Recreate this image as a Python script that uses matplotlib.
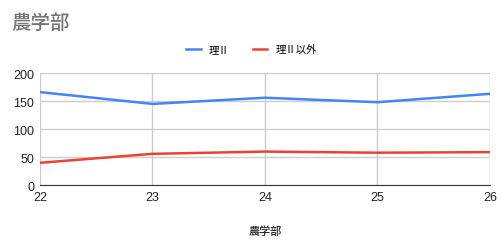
import matplotlib
matplotlib.use('Agg')
import matplotlib.pyplot as plt

plt.rcParams['font.family'] = ['Noto Sans CJK JP', 'DejaVu Sans']

years = [22, 23, 24, 25, 26]
ri2 = [166, 145, 156, 148, 163]
ri2_other = [40, 56, 60, 58, 59]
y_ticks = [0, 50, 100, 150, 200]

fig = plt.figure(figsize=(5.03, 2.51), dpi=100)
ax = fig.add_axes([0.0795, 0.258, 0.8945, 0.447])

ax.plot(years, ri2, color='#4285f4', linewidth=1.8, label='理Ⅱ')
ax.plot(years, ri2_other, color='#ea4335', linewidth=1.8, label='理Ⅱ以外')

ax.set_xlim(22, 26)
ax.set_ylim(0, 200)
ax.set_xticks(years)
ax.set_yticks(y_ticks)
ax.grid(True, color='#cccccc', linewidth=1)
ax.set_axisbelow(True)
for s in ['top', 'right', 'left']:
    ax.spines[s].set_visible(False)
ax.spines['bottom'].set_color('#333333')
ax.tick_params(length=0, labelsize=9, colors='#222222', pad=4)
for lbl in ax.get_xticklabels() + ax.get_yticklabels():
    lbl.set_family(['Liberation Sans', 'DejaVu Sans'])
ax.set_xlabel('農学部', fontsize=8, color='#222222', labelpad=16, fontweight='medium')

fig.text(0.022, 0.905, '農学部', fontsize=14, color='#757575', va='center', fontweight='medium')
fig.legend(loc='center', bbox_to_anchor=(0.5, 0.80), ncol=2, frameon=False,
           fontsize=7.5, handlelength=1.4, handletextpad=0.8, columnspacing=2.2)

fig.savefig('out.png', dpi=100, facecolor='white')
